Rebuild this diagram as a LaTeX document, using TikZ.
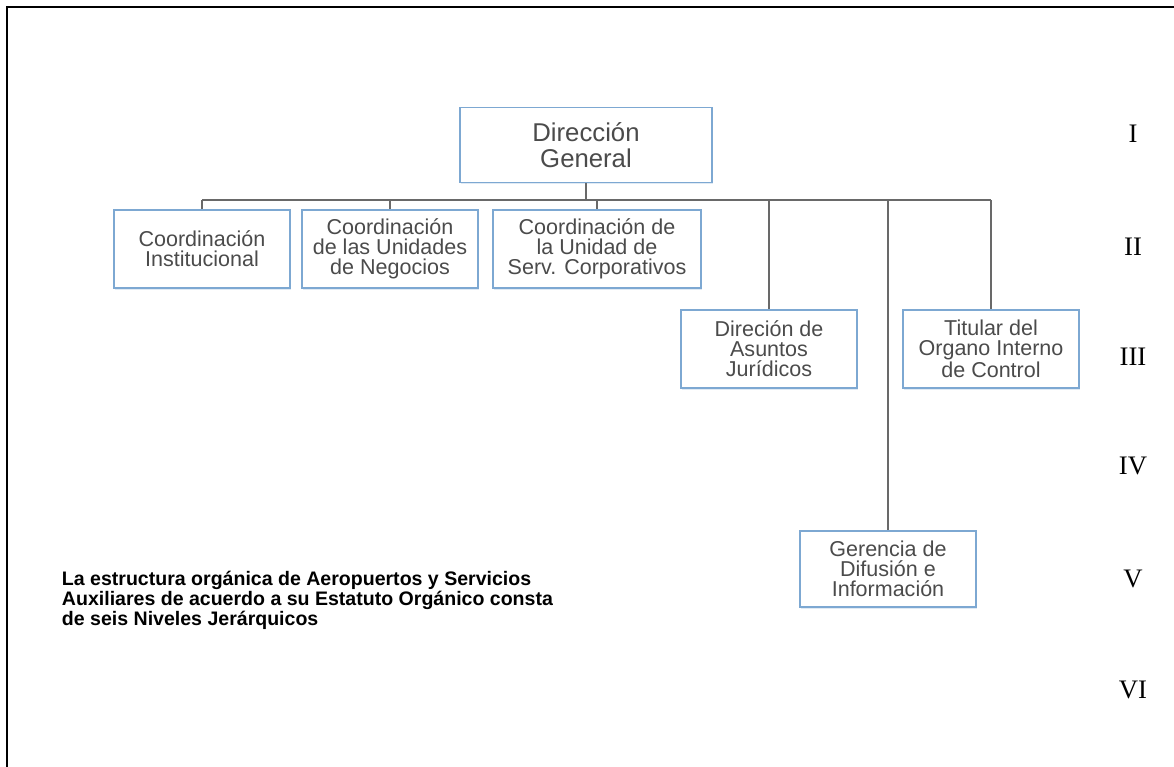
\documentclass[tikz,border=0pt]{standalone}
\usepackage{fontspec}
\setmainfont{Liberation Serif}
\newfontfamily\arialf{Liberation Sans}
\usetikzlibrary{shadows}
\definecolor{boxblue}{RGB}{125,168,210}
\definecolor{txtgray}{RGB}{75,75,75}
\definecolor{linegray}{RGB}{105,105,105}
\begin{document}
\begin{tikzpicture}[x=0.025cm,y=-0.025cm,
    ob/.style={shape=rectangle,draw=boxblue,line width=1.3pt,fill=white,
      text=txtgray,align=center,minimum width=4.4cm,minimum height=1.95cm,
      font=\arialf\fontsize{15.3}{14.2}\selectfont,inner sep=1pt,
      drop shadow={shadow xshift=0.4pt,shadow yshift=-1.2pt,fill=boxblue!40,opacity=0.6}},
    lvl/.style={font=\fontsize{19}{20}\selectfont,text=black},
    con/.style={draw=linegray,line width=1.1pt}]
    \useasboundingbox (0,0) rectangle (1174,767);
    \draw[line width=1.6pt] (1174,7) -- (7,7) -- (7,767);

    \node[ob,minimum width=6.3cm,minimum height=1.875cm,font=\arialf\fontsize{18.3}{18}\selectfont] (1) at (586,145) {Dirección\\General};
    \node[ob] (2) at (202,249) {Coordinación\\Institucional};
    \node[ob] (3) at (390,249) {Coordinación\\de las Unidades\\de Negocios};
    \node[ob,minimum width=5.2cm] (4) at (597,249) {Coordinación de\\la Unidad de\\Serv. Corporativos};
    \node[ob] (5) at (769,349) {Direción de\\Asuntos\\Jurídicos};
    \node[ob] (6) at (991,349) {Titular del\\Organo Interno\\de Control};
    \node[ob,minimum height=1.9cm] (7) at (888,569) {Gerencia de\\Difusión e\\Información};

    \coordinate (bus) at (0,200);
    \path[con] (2.north |- bus) edge (6.north |- bus);
    \path[con] (1) edge (1 |- bus);
    \path[con] (2 |- bus) edge (2);
    \path[con] (3 |- bus) edge (3);
    \path[con] (4 |- bus) edge (4);
    \path[con] (5 |- bus) edge (5);
    \path[con] (6 |- bus) edge (6);
    \path[con] (7 |- bus) edge (7);

    \node[anchor=west,align=left,font=\arialf\bfseries\fontsize{13.9}{13}\selectfont] (txt) at (57,600)
      {La estructura orgánica de Aeropuertos y Servicios\\Auxiliares de acuerdo a su Estatuto Orgánico consta\\de seis Niveles Jerárquicos};

    \node[lvl] (l1) at (1133,134) {I};
    \node[lvl] (l2) at (1133,247) {II};
    \node[lvl] (l3) at (1133,357) {III};
    \node[lvl] (l4) at (1133,466) {IV};
    \node[lvl] (l5) at (1133,579) {V};
    \node[lvl] (l6) at (1133,690) {VI};

  \end{tikzpicture}
\end{document}
